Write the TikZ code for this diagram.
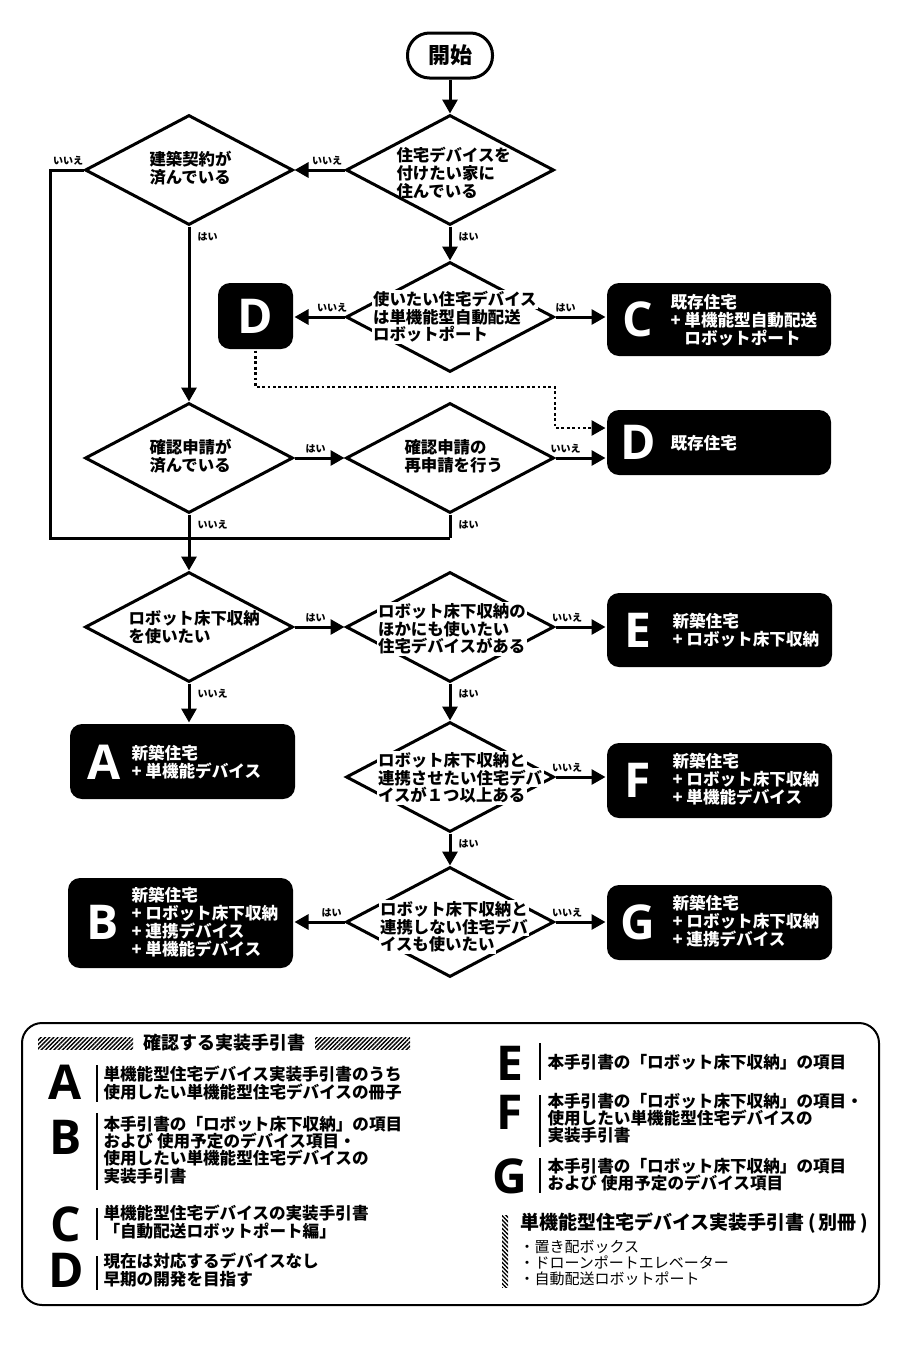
\documentclass[tikz,border=0pt]{standalone}
\usepackage{fontspec}
\setmainfont{Noto Sans CJK JP}
\newfontfamily\lat{Open Sans}
\usetikzlibrary{shapes.geometric,arrows.meta,patterns.meta,calc}
\setlength{\fboxsep}{0.8pt}
\lineskiplimit=-100pt
\lineskip=0pt
\newcommand{\wl}[1]{\colorbox{white}{#1}}
\begin{document}
\begin{tikzpicture}[x=0.5pt,y=-0.5pt,
  line width=1.5pt,
  arr/.style={-{Triangle[length=7pt,width=7.5pt]}},
  dotline/.style={line width=1.4pt,dash pattern=on 1.4pt off 1.3pt},
  dia/.style={diamond,draw,minimum width=104pt,minimum height=55pt,inner sep=0pt},
  dtext/.style={font=\bfseries\fontsize{8.2}{8.8}\selectfont,align=left,anchor=west,inner sep=0pt},
  bbox/.style={fill=black,rounded corners=6pt,inner sep=0pt,draw=none},
  big/.style={text=white,font=\lat\bfseries\fontsize{24}{24}\selectfont,inner sep=0pt},
  btext/.style={text=white,font=\bfseries\fontsize{8.3}{9}\selectfont,align=left,anchor=west,inner sep=0pt},
  lab/.style={font=\bfseries\fontsize{5}{5}\selectfont,inner sep=1.5pt},
  labv/.style={lab,anchor=west,pos=0,yshift=-5pt,xshift=2pt},
  lg/.style={font=\lat\bfseries\fontsize{24}{24}\selectfont,inner sep=0pt},
  ltext/.style={font=\bfseries\fontsize{8.3}{8.6}\selectfont,align=left,anchor=west,inner sep=0pt},
  lbar/.style={line width=1pt},
  hatch/.style={pattern={Lines[angle=45,distance=1.5pt,line width=0.7pt]}},
]
\fill[white] (0,0) rectangle (900,1350);
\useasboundingbox (0,0) rectangle (900,1350);

% start
\node[draw,rounded corners=11pt,minimum width=42.5pt,minimum height=22.5pt,
      font=\bfseries\fontsize{11}{11}\selectfont] (start) at (450,55.5) {開始};

% diamonds
\node[dia] (d1) at (450,170) {};
\node[dia] (d2) at (189,170) {};
\node[dia] (d3) at (450,317) {};
\node[dia] (d4) at (189,458) {};
\node[dia] (d5) at (450,458) {};
\node[dia] (d6) at (189,627) {};
\node[dia] (d7) at (450,627) {};
\node[dia] (d8) at (450,777) {};
\node[dia] (d9) at (450,922) {};

% diamond texts
\node[dtext] (t1) at (395,173) {住宅デバイスを\\付けたい家に\\住んでいる};
\node[dtext] (t2) at (148,168) {建築契約が\\済んでいる};
\node[dtext] (t3) at (370,317) {\wl{使いたい住宅デバイス}\\\wl{は単機能型自動配送}\\\wl{ロボットポート}};
\node[dtext] (t4) at (148,456) {確認申請が\\済んでいる};
\node[dtext] (t5) at (403,456) {確認申請の\\再申請を行う};
\node[dtext] (t6) at (127,627) {ロボット床下収納\\を使いたい};
\node[dtext] (t7) at (375,629) {\wl{ロボット床下収納の}\\\wl{ほかにも使いたい}\\\wl{住宅デバイスがある}};
\node[dtext] (t8) at (375,778) {\wl{ロボット床下収納と}\\\wl{連携させたい住宅デバ}\\\wl{イスが１つ以上ある}};
\node[dtext] (t9) at (377,927) {\wl{ロボット床下収納と}\\\wl{連携しない住宅デバ}\\\wl{イスも使いたい}};

% result boxes
\node[bbox,minimum width=37.5pt,minimum height=33pt] (bD1) at (255.5,316) {};
\node[bbox,minimum width=112pt,minimum height=36.5pt] (bC) at (719,319.5) {};
\node[bbox,minimum width=112pt,minimum height=32.5pt] (bD2) at (719,442.5) {};
\node[bbox,minimum width=112.5pt,minimum height=37pt] (bE) at (719.5,630) {};
\node[bbox,minimum width=112.5pt,minimum height=37.5pt] (bF) at (719.5,780.5) {};
\node[bbox,minimum width=112.5pt,minimum height=37.5pt] (bG) at (719.5,922.5) {};
\node[bbox,minimum width=112.5pt,minimum height=37.5pt] (bA) at (182.5,761.5) {};
\node[bbox,minimum width=112.5pt,minimum height=45pt] (bB) at (180.5,923) {};

\node[big] (lD1) at (bD1) {D};
\node[big] (lC) at (638,319) {C};
\node[big] (lD2) at (638,442) {D};
\node[big] (lE) at (638,630) {E};
\node[big] (lF) at (638,780) {F};
\node[big] (lG) at (638,922) {G};
\node[big] (lA) at (104,762) {A};
\node[big] (lB) at (103,922) {B};

\node[btext] (tC) at (669,320) {既存住宅\\+ 単機能型自動配送\\\phantom{+ }ロボットポート};
\node[btext] (tD2) at (669,443) {既存住宅};
\node[btext] (tE) at (671,630) {新築住宅\\+ ロボット床下収納};
\node[btext] (tF) at (671,779) {新築住宅\\+ ロボット床下収納\\+ 単機能デバイス};
\node[btext] (tG) at (671,921) {新築住宅\\+ ロボット床下収納\\+ 連携デバイス};
\node[btext] (tA) at (130,762) {新築住宅\\+ 単機能デバイス};
\node[btext] (tB) at (130,922) {新築住宅\\+ ロボット床下収納\\+ 連携デバイス\\+ 単機能デバイス};

% connectors
\coordinate (lp) at (50,170);
\coordinate (jn) at (450,538);
\coordinate (dk) at (555,387);
\draw[arr] (start) -- (d1);
\draw[arr] (d1.west) -- node[lab,above,pos=0.35]{いいえ} (d2.east);
\draw (d2.west) -- node[lab,above,pos=0.46]{いいえ} (lp) |- (jn);
\draw (d5.south) -- node[labv]{はい} (jn);
\draw[arr] (d2.south) -- node[labv]{はい} (d4.north);
\draw[arr] (d1.south) -- node[labv]{はい} (d3.north);
\draw[arr] (d3.west) -- node[lab,above,pos=0.25]{いいえ} (d3.west -| bD1.east);
\draw[arr] (d3.east) -- node[lab,above,pos=0.2]{はい} (d3.east -| bC.west);
\draw[arr,dotline] (bD1.south) |- (dk) |- ([yshift=7.25pt]bD2.west);
\draw[arr] (d4.east) -- node[lab,above,pos=0.42]{はい} (d5.west);
\draw[arr] (d5.east) -- node[lab,above,pos=0.2]{いいえ} (d5.east -| bD2.west);
\draw[arr] (d4.south) -- node[labv]{いいえ} (d6.north);
\draw[arr] (d6.east) -- node[lab,above,pos=0.42]{はい} (d7.west);
\draw[arr] (d7.east) -- node[lab,above,pos=0.23]{いいえ} (d7.east -| bE.west);
\draw[arr] (d6.south) -- node[labv]{いいえ} (d6.south |- bA.north);
\draw[arr] (d7.south) -- node[labv]{はい} (d8.north);
\draw[arr] (d8.east) -- node[lab,above,pos=0.23]{いいえ} (d8.east -| bF.west);
\draw[arr] (d8.south) -- node[labv]{はい} (d9.north);
\draw[arr] (d9.west) -- node[lab,above,pos=0.26]{はい} (d9.west -| bB.east);
\draw[arr] (d9.east) -- node[lab,above,pos=0.23]{いいえ} (d9.east -| bG.west);

% legend
\node[draw,line width=1pt,rounded corners=10pt,minimum width=428.5pt,minimum height=141pt,inner sep=0pt] (leg) at (450.5,1164) {};
\path[hatch] (38,1037) rectangle (133,1049);
\path[hatch] (315,1037) rectangle (410,1049);
\node[font=\bfseries\fontsize{9}{9}\selectfont,inner sep=0pt] (ltitle) at (224,1043) {確認する実装手引書};

\node[lg] (gA) at (65,1082) {A};
\node[lg] (gB) at (66,1137) {B};
\node[lg] (gC) at (66,1224) {C};
\node[lg] (gD) at (66,1270) {D};
\node[lg] (gE) at (510,1063) {E};
\node[lg] (gF) at (510,1112) {F};
\node[lg] (gG) at (510,1176) {G};

\draw[lbar] (97,1065) -- (97,1102);
\draw[lbar] (97,1113) -- (97,1190);
\draw[lbar] (97,1208) -- (97,1240);
\draw[lbar] (97,1256) -- (97,1290);
\draw[lbar] (540,1043) -- (540,1080);
\draw[lbar] (540,1095) -- (540,1147);
\draw[lbar] (540,1158) -- (540,1193);

\node[ltext] (xA) at (102,1083) {単機能型住宅デバイス実装手引書のうち\\使用したい単機能型住宅デバイスの冊子};
\node[ltext] (xB) at (102,1150) {本手引書の「ロボット床下収納」の項目\\および 使用予定のデバイス項目・\\使用したい単機能型住宅デバイスの\\実装手引書};
\node[ltext] (xC) at (102,1222) {単機能型住宅デバイスの実装手引書\\「自動配送ロボットポート編」};
\node[ltext] (xD) at (102,1270) {現在は対応するデバイスなし\\早期の開発を目指す};
\node[ltext] (xE) at (546,1062) {本手引書の「ロボット床下収納」の項目};
\node[ltext] (xF) at (546,1118) {本手引書の「ロボット床下収納」の項目・\\使用したい単機能型住宅デバイスの\\実装手引書};
\node[ltext] (xG) at (546,1175) {本手引書の「ロボット床下収納」の項目\\および 使用予定のデバイス項目};

\path[pattern={Lines[angle=-45,distance=1.5pt,line width=0.7pt]}] (502,1215) rectangle (508,1287);
\node[font=\bfseries\fontsize{9.5}{9.5}\selectfont,anchor=west,inner sep=0pt] (sub) at (519,1223) {単機能型住宅デバイス実装手引書\,(\,別冊\,)};
\node[font=\fontsize{7.5}{8}\selectfont,align=left,anchor=west,inner sep=0pt] (subl) at (518,1263) {・置き配ボックス\\・ドローンポートエレベーター\\・自動配送ロボットポート};
\end{tikzpicture}
\end{document}
